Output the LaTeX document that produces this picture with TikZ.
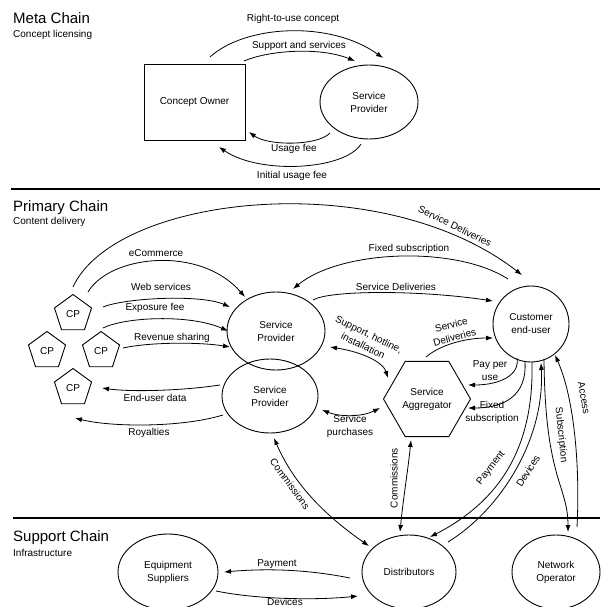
\documentclass[tikz,border=0pt]{standalone}
\usepackage{fontspec}
\setmainfont{Liberation Sans}
\usetikzlibrary{shapes.geometric,arrows.meta,calc}
\begin{document}
\begin{tikzpicture}[x=1pt,y=-1pt,
 every node/.style={font=\fontsize{10}{13}\selectfont},
 shp/.style={draw, line width=0.9pt, inner sep=0pt, align=center},
 boxnode/.style={shp, rectangle, minimum width=101pt, minimum height=76pt},
 ellnode/.style={shp, ellipse},
 cpnode/.style={shp, regular polygon, regular polygon sides=5, minimum size=39pt},
 hexnode/.style={shp, regular polygon, regular polygon sides=6, minimum size=87pt},
 conn/.style={line width=0.8pt, -{Latex[length=7pt,width=5pt]}},
 biconn/.style={line width=0.8pt, {Latex[length=7pt,width=5pt]}-{Latex[length=7pt,width=5pt]}},
 lbl/.style={inner sep=0pt, align=center},
 hdr/.style={font=\fontsize{15}{18}\selectfont, anchor=base west, inner sep=0pt},
 subhdr/.style={anchor=base west, inner sep=0pt},
 sepline/.style={line width=1.2pt}]
\useasboundingbox (0,0) rectangle (600,607);

% ---------- section headers and separators
\node[hdr] (h1) at (13,24) {Meta Chain};
\node[subhdr] (s1) at (13,37.5) {Concept licensing};
\node[hdr] (h2) at (13,211.5) {Primary Chain};
\node[subhdr] (s2) at (13,224.5) {Content delivery};
\node[hdr] (h3) at (13,541) {Support Chain};
\node[subhdr] (s3) at (13,556) {Infrastructure};
\coordinate (sepA1) at (11,189);
\coordinate (sepA2) at (600,189);
\coordinate (sepB1) at (13,518);
\coordinate (sepB2) at (600,518);
\draw[sepline] (sepA1) -- (sepA2);
\draw[sepline] (sepB1) -- (sepB2);

% ---------- Meta chain
\node[boxnode] (co) at (194.5,102) {Concept Owner};
\node[ellnode, minimum width=98pt, minimum height=74pt] (msp) at (369,102) {Service\\Provider};

\draw[conn] ($(co)+(15.5,-45)$) .. controls (245,25) and (330,20) .. ($(msp)+(14,-44)$);
\node[lbl] (lrtu) at (293,19) {Right-to-use concept};
\draw[conn] ($(co)+(49.5,-41)$) .. controls (270,50) and (320,47) .. ($(msp)+(-14,-41)$);
\node[lbl] (lsas) at (299,46) {Support and services};
\draw[conn] ($(msp)+(-39,31)$) .. controls (318,146) and (268,146) .. ($(co)+(54.5,30)$);
\node[lbl] (luf) at (294,149) {Usage fee};
\draw[conn] ($(msp)+(-8,42)$) .. controls (345,170) and (260,175) .. ($(co)+(24.5,45)$);
\node[lbl] (liuf) at (292,176) {Initial usage fee};

% ---------- Primary chain nodes
\node[cpnode] (cp1) at (73,314) {CP};
\node[cpnode] (cp2) at (47,351) {CP};
\node[cpnode] (cp3) at (101,351) {CP};
\node[cpnode] (cp4) at (73,388) {CP};
\node[ellnode, minimum width=98pt, minimum height=78pt] (sp1) at (276,331) {Service\\Provider};
\node[ellnode, minimum width=96pt, minimum height=74pt] (sp2) at (270,396) {Service\\Provider};
\node[shp, circle, minimum size=76pt] (cu) at (531,324) {Customer\\end-user};
\node[hexnode] (agg) at (427,399) {Service\\Aggregator};

% ---------- Support chain nodes
\node[ellnode, minimum width=100pt, minimum height=76pt] (es) at (168,572) {Equipment\\Suppliers};
\node[ellnode, minimum width=94pt, minimum height=74pt] (dist) at (409,572) {Distributors};
\node[ellnode, minimum width=88pt, minimum height=74pt] (no) at (556,572) {Network\\Operator};

% ---------- Primary chain connectors
\draw[conn] ($(cp1)+(0,-27)$) .. controls (115,195) and (380,165) .. ($(cu)+(-9,-49)$);
\node[lbl, rotate=-26] (lsd1) at (455,226) {Service Deliveries};

\draw[conn] ($(cp1)+(15,-22)$) .. controls (110,255) and (200,245) .. ($(sp1)+(-31,-34)$);
\node[lbl] (lec) at (156,253) {eCommerce};
\draw[conn] ($(cp1)+(30,-7)$) .. controls (125,298) and (200,294) .. ($(sp1)+(-46,-24)$);
\node[lbl] (lws) at (161,287) {Web services};
\draw[conn] ($(cp3)+(2,-23)$) .. controls (125,317) and (190,314) .. ($(sp1)+(-48,0)$);
\node[lbl] (lef) at (155,308) {Exposure fee};
\draw[conn] ($(cp3)+(22,-3)$) .. controls (150,342) and (200,342) .. ($(sp1)+(-46,16)$);
\node[lbl] (lrs) at (172,338) {Revenue sharing};
\draw[conn] ($(sp2)+(-50,-11)$) .. controls (180,391) and (130,392) .. ($(cp4)+(29,0)$);
\node[lbl] (leud) at (155,398) {End-user data};
\draw[conn] ($(sp2)+(-47,19)$) .. controls (180,428) and (110,427) .. ($(cp4)+(2,30)$);
\node[lbl] (lroy) at (149,433) {Royalties};

\draw[conn] ($(cu)+(-23,-45)$) .. controls (455,245) and (340,250) .. ($(sp1)+(17,-42)$);
\node[lbl] (lfs1) at (409,249) {Fixed subscription};
\draw[conn] ($(sp1)+(37,-31)$) .. controls (330,290) and (420,290) .. ($(cu)+(-38,-23)$);
\node[lbl] (lsd2) at (396,287) {Service Deliveries};

\draw[biconn] ($(sp1)+(54,16)$) .. controls (362,352) and (383,362) .. ($(agg)+(-39,-21)$);
\node[lbl, rotate=-26] (lsup) at (366,340) {Support, hotline,\\installation};
\draw[biconn] ($(sp2)+(52,14)$) .. controls (340,417) and (362,417) .. ($(agg)+(-47,9)$);
\node[lbl] (lspur) at (350,426) {Service\\purchases};
\draw[conn] ($(agg)+(-1,-42)$) .. controls (440,345) and (465,338) .. ($(cu)+(-38,14)$);
\node[lbl, rotate=15] (lsd3) at (453,331) {Service\\Deliveries};

\draw[conn] ($(cu)+(-14,34)$) .. controls (520,375) and (500,385) .. ($(agg)+(41,-14)$);
\node[lbl] (lppu) at (490,371) {Pay per\\use};
\draw[conn] ($(cu)+(-6,38)$) .. controls (527,395) and (505,408) .. ($(agg)+(41,9)$);
\node[lbl] (lfs2) at (492,412) {Fixed\\subscription};

\draw[conn] ($(cu)+(1,38)$) .. controls (534,445) and (502,500) .. ($(dist)+(21,-35)$);
\node[lbl, rotate=52] (lpay1) at (491,468) {Payment};
\draw[conn] ($(dist)+(39,-30)$) .. controls (500,510) and (545,440) .. ($(cu)+(10,39)$);
\node[lbl, rotate=58] (ldev1) at (528,471) {Devices};
\draw[conn] ($(cu)+(13,35)$) .. controls (545,480) and (568,485) .. ($(no)+(12,-40)$);
\node[lbl, rotate=-84] (lsubs) at (561,435) {Subscription};
\draw[conn] ($(no)+(21,-45)$) .. controls (580,470) and (575,400) .. ($(cu)+(24,31)$);
\node[lbl, rotate=-80] (lacc) at (584,398) {Access};

\draw[biconn] ($(sp2)+(4,42)$) .. controls (292,480) and (320,512) .. ($(dist)+(-40,-26)$);
\node[lbl, rotate=-54] (lcom1) at (290,484) {Commissions};
\draw[biconn] ($(agg)+(-16,41)$) .. controls (408,470) and (403,500) .. ($(dist)+(-9,-40)$);
\node[lbl, rotate=90] (lcom2) at (394,478) {Commissions};

% ---------- Support chain connectors
\draw[conn] ($(dist)+(-59,6)$) .. controls (310,570) and (270,568) .. ($(es)+(56,0)$);
\node[lbl] (lpay2) at (277,564) {Payment};
\draw[conn] ($(es)+(48,19)$) .. controls (260,600) and (320,600) .. ($(dist)+(-51,24)$);
\node[lbl] (ldev2) at (285,602) {Devices};
\end{tikzpicture}
\end{document}
